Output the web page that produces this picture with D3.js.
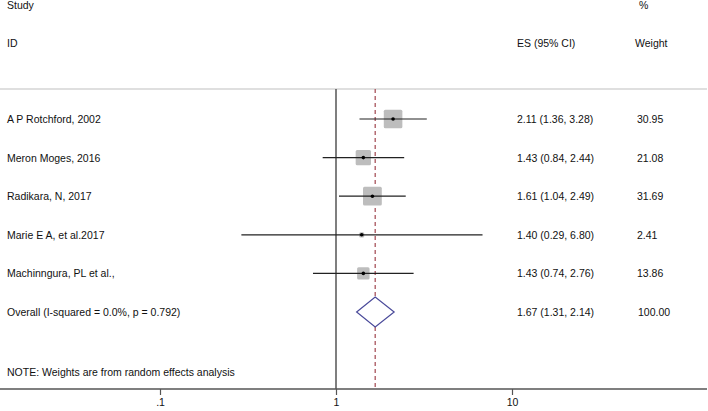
<!DOCTYPE html>
<meta charset="utf-8">
<script src="https://d3js.org/d3.v7.min.js"></script>
<style>
  body { margin: 0; background: #fff; }
  svg text { font-family: "Liberation Sans", Arial, sans-serif; font-size: 10.5px; fill: #111; }
</style>
<body>
<div id="chart"></div>
</body>
<script>
  // study rows
  var studies = ["A P Rotchford, 2002", "Meron Moges, 2016", "Radikara, N, 2017",
                 "Marie E A, et al.2017", "Machinngura, PL et al.,"];
  var es = [2.11, 1.43, 1.61, 1.40, 1.43];
  var lo = [1.36, 0.84, 1.04, 0.29, 0.74];
  var hi = [3.28, 2.44, 2.49, 6.80, 2.76];
  var weights = [30.95, 21.08, 31.69, 2.41, 13.86];

  // pooled estimate
  var overall = {label: "Overall  (I-squared = 0.0%, p = 0.792)", es: 1.67, lo: 1.31, hi: 2.14, weight: 100.00};

  var ticks = [0.1, 1, 10];
  var tickLabels = [".1", "1", "10"];

  var width = 708, height = 411;
  var esX = 517, wX = 637;

  var svg = d3.select("#chart").append("svg")
      .attr("width", width)
      .attr("height", height);

  // log x scale, 1 sits on the null line
  var x = d3.scaleLog().domain([0.1, 10]).range([160, 512]);

  // row positions (5 studies, overall)
  var y = d3.scalePoint().domain(d3.range(6)).range([119, 312]);

  var fmt = d3.format(".2f");
  var esText = function(e, l, h) { return fmt(e) + " (" + fmt(l) + ", " + fmt(h) + ")"; };

  // header
  svg.append("text").attr("x", 7).attr("y", 9).text("Study");
  svg.append("text").attr("x", 7).attr("y", 47).text("ID");
  svg.append("text").attr("x", esX).attr("y", 47).text("ES (95% CI)");
  svg.append("text").attr("x", 639).attr("y", 9).text("%");
  svg.append("text").attr("x", wX - 2).attr("y", 47).text("Weight");

  svg.append("line")
      .attr("x1", 0).attr("x2", 707)
      .attr("y1", 89).attr("y2", 89)
      .attr("stroke", "#d4d4d4").attr("stroke-width", 1.5);

  // null line at 1
  svg.append("line")
      .attr("x1", x(1)).attr("x2", x(1))
      .attr("y1", 89).attr("y2", 389)
      .attr("stroke", "#555").attr("stroke-width", 1.5);

  // overall dashed line
  svg.append("line")
      .attr("x1", x(overall.es)).attr("x2", x(overall.es))
      .attr("y1", 89).attr("y2", 389)
      .attr("stroke", "#a8545c").attr("stroke-width", 1.3)
      .attr("stroke-dasharray", "4,3");

  var rows = studies.map(function(s, i) {
    return {name: s, es: es[i], lo: lo[i], hi: hi[i], w: weights[i], i: i};
  });

  var g = svg.append("g");
  var half = d => 1.67 * Math.sqrt(d.w);

  // weight boxes, area proportional to weight
  g.selectAll("rect.box")
    .data(rows)
    .join("rect")
      .attr("class", "box")
      .attr("x", d => x(d.es) - half(d))
      .attr("y", d => y(d.i) - half(d))
      .attr("width", d => 2 * half(d))
      .attr("height", d => 2 * half(d))
      .attr("rx", 1.5)
      .attr("fill", "#bdbdbd");

  // confidence intervals
  g.selectAll("line.ci")
    .data(rows)
    .join("line")
      .attr("class", "ci")
      .attr("x1", d => x(d.lo)).attr("x2", d => x(d.hi))
      .attr("y1", d => y(d.i)).attr("y2", d => y(d.i))
      .attr("stroke", "#222").attr("stroke-width", 1.2);

  g.selectAll("circle")
    .data(rows)
    .join("circle")
      .attr("cx", d => x(d.es))
      .attr("cy", d => y(d.i))
      .attr("r", 1.8)
      .attr("fill", "#000");

  // labels
  g.selectAll("text.name")
    .data(rows)
    .join("text")
      .attr("class", "name")
      .attr("x", 7).attr("y", d => y(d.i) + 4)
      .text(d => d.name);

  g.selectAll("text.es")
    .data(rows)
    .join("text")
      .attr("class", "es")
      .attr("x", esX).attr("y", d => y(d.i) + 4)
      .text(d => esText(d.es, d.lo, d.hi));

  g.selectAll("text.w")
    .data(rows)
    .join("text")
      .attr("class", "w")
      .attr("x", wX).attr("y", d => y(d.i) + 4)
      .text(d => fmt(d.w));

  // overall diamond
  var oy = y(5);
  svg.append("path")
      .attr("d", "M" + x(overall.lo) + "," + oy +
                 "L" + x(overall.es) + "," + (oy - 15) +
                 "L" + x(overall.hi) + "," + oy +
                 "L" + x(overall.es) + "," + (oy + 15) + "Z")
      .attr("fill", "#fff")
      .attr("stroke", "#4a4a9a").attr("stroke-width", 1.2);

  svg.append("text").attr("x", 7).attr("y", oy + 4).text(overall.label);
  svg.append("text").attr("x", esX).attr("y", oy + 4).text(esText(overall.es, overall.lo, overall.hi));
  svg.append("text").attr("x", wX + 1).attr("y", oy + 4).text(fmt(overall.weight));

  svg.append("text").attr("x", 7).attr("y", 376)
      .text("NOTE: Weights are from random effects analysis");

  // bottom axis
  svg.append("line")
      .attr("x1", 0).attr("x2", 707)
      .attr("y1", 389).attr("y2", 389)
      .attr("stroke", "#555").attr("stroke-width", 1.5);

  var axis = d3.axisBottom(x)
      .tickValues(ticks)
      .tickFormat((d, i) => tickLabels[i])
      .tickSize(6)
      .tickPadding(4);

  svg.append("g")
      .attr("transform", "translate(0,389)")
      .call(axis)
      .call(a => a.select(".domain").remove())
      .call(a => a.selectAll(".tick line").attr("stroke", "#555").attr("stroke-width", 1.2))
      .call(a => a.selectAll(".tick text")
          .style("font-family", "'Liberation Sans', Arial, sans-serif")
          .style("font-size", "10.5px").attr("fill", "#111"));
</script>
